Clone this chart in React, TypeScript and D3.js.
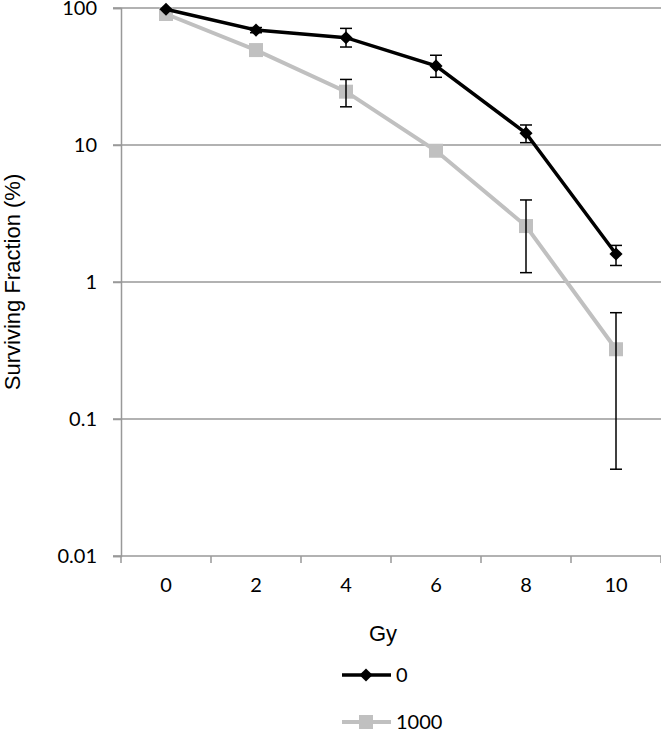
import React, { useEffect, useRef } from "react";
import * as d3 from "d3";

const doses = ["0", "2", "4", "6", "8", "10"];
const yTicks = [0.01, 0.1, 1, 10, 100];
// series "0"
const ctrlMean = [98, 69, 60.7, 37.8, 12.2, 1.6];
const ctrlHi = [98, 72, 71, 45.2, 14.0, 1.85];
const ctrlLo = [98, 66, 51.9, 31.2, 10.4, 1.32];
// series "1000"
const trtMean = [90.4, 49.3, 24.5, 9.08, 2.56, 0.323];
const trtHi = [90.4, 49.3, 30.1, 9.08, 3.97, 0.597];
const trtLo = [90.4, 49.3, 19.0, 9.08, 1.17, 0.043];

const W = 661;
const H = 730;
const FONT = "Lato, 'Open Sans', sans-serif";
const ARIAL = "'Liberation Sans', Arial, sans-serif";

export default function App() {
  const ref = useRef<SVGSVGElement>(null);

  useEffect(() => {
    const svg = d3.select(ref.current);
    svg.selectAll("*").remove();

    const x = d3.scaleBand().domain(doses).range([121, 661]);
    const y = d3.scaleLog().domain([0.01, 100]).range([556, 8]);
    const cx = (d: string) => (x(d) as number) + x.bandwidth() / 2;

    // gridlines
    svg.append("g")
      .selectAll("line")
      .data(yTicks.slice(1))
      .enter()
      .append("line")
      .attr("x1", 113).attr("x2", 661)
      .attr("y1", d => y(d)).attr("y2", d => y(d))
      .attr("stroke", "#999").attr("stroke-width", 1.5);

    // y axis
    const yAxis = d3.axisLeft(y)
      .tickValues(yTicks)
      .tickSize(8)
      .tickPadding(16)
      .tickFormat(d => String(d));
    const gy = svg.append("g").attr("transform", "translate(121,0)").call(yAxis);
    gy.select(".domain").attr("stroke", "#999").attr("stroke-width", 1.5);
    gy.selectAll(".tick line").attr("stroke", "#999").attr("stroke-width", 1.5);
    gy.selectAll("text").attr("font-family", FONT).attr("font-size", 20).attr("fill", "#000");

    // x axis
    const gx = svg.append("g").attr("transform", "translate(0,556)")
      .call(d3.axisBottom(x).tickSize(0).tickPadding(22));
    gx.select(".domain").remove();
    gx.append("line").attr("x1", 113).attr("x2", 661).attr("stroke", "#999").attr("stroke-width", 1.5);
    gx.selectAll("g.xt")
      .data(d3.range(doses.length + 1))
      .enter()
      .append("line")
      .attr("x1", i => 121 + i * x.bandwidth()).attr("x2", i => 121 + i * x.bandwidth())
      .attr("y1", 0).attr("y2", 7)
      .attr("stroke", "#999").attr("stroke-width", 1.5);
    gx.selectAll("text").attr("font-family", FONT).attr("font-size", 20).attr("fill", "#000");

    // axis titles
    svg.append("text")
      .attr("x", 383).attr("y", 641)
      .attr("text-anchor", "middle")
      .attr("font-family", ARIAL).attr("font-size", 22)
      .text("Gy");
    svg.append("text")
      .attr("transform", "translate(20,282) rotate(-90)")
      .attr("text-anchor", "middle")
      .attr("font-family", ARIAL).attr("font-size", 22)
      .text("Surviving Fraction (%)");

    const line = d3.line<number>().x((d, i) => cx(doses[i])).y(d => y(d));

    const drawErr = (hi: number[], lo: number[]) => {
      const g = svg.append("g");
      doses.forEach((d, i) => {
        if (hi[i] === lo[i]) return;
        const px = cx(d);
        g.append("line").attr("x1", px).attr("x2", px).attr("y1", y(hi[i])).attr("y2", y(lo[i]))
          .attr("stroke", "#000").attr("stroke-width", 1.5);
        [hi[i], lo[i]].forEach(v => {
          g.append("line").attr("x1", px - 6).attr("x2", px + 6).attr("y1", y(v)).attr("y2", y(v))
            .attr("stroke", "#000").attr("stroke-width", 1.5);
        });
      });
    };

    // series 1000 (grey squares)
    svg.append("path").datum(trtMean).attr("d", line)
      .attr("fill", "none").attr("stroke", "#c0c0c0").attr("stroke-width", 4);
    svg.append("g").selectAll("rect").data(trtMean).enter().append("rect")
      .attr("x", (d, i) => cx(doses[i]) - 7).attr("y", d => y(d) - 7)
      .attr("width", 14).attr("height", 14).attr("fill", "#c0c0c0");
    drawErr(trtHi, trtLo);

    // series 0 (black diamonds)
    svg.append("path").datum(ctrlMean).attr("d", line)
      .attr("fill", "none").attr("stroke", "#000").attr("stroke-width", 3.5);
    const diamond = d3.symbol().type(d3.symbolDiamond2).size(110);
    svg.append("g").selectAll("path").data(ctrlMean).enter().append("path")
      .attr("d", diamond)
      .attr("transform", (d, i) => `translate(${cx(doses[i])},${y(d)})`)
      .attr("fill", "#000");
    drawErr(ctrlHi, ctrlLo);

    // legend
    const lg = svg.append("g");
    lg.append("line").attr("x1", 342).attr("x2", 391).attr("y1", 675).attr("y2", 675)
      .attr("stroke", "#000").attr("stroke-width", 3.5);
    lg.append("path").attr("d", diamond).attr("transform", "translate(366,675)").attr("fill", "#000");
    lg.append("text").attr("x", 396).attr("y", 682).attr("font-family", FONT).attr("font-size", 20).text("0");
    lg.append("line").attr("x1", 342).attr("x2", 391).attr("y1", 722).attr("y2", 722)
      .attr("stroke", "#c0c0c0").attr("stroke-width", 4);
    lg.append("rect").attr("x", 359).attr("y", 715).attr("width", 14).attr("height", 14).attr("fill", "#c0c0c0");
    lg.append("text").attr("x", 396).attr("y", 729).attr("font-family", FONT).attr("font-size", 20).text("1000");
  }, []);

  return (
    <svg ref={ref} width={W} height={H} style={{ position: "absolute", left: 0, top: 0, background: "#fff" }} />
  );
}
